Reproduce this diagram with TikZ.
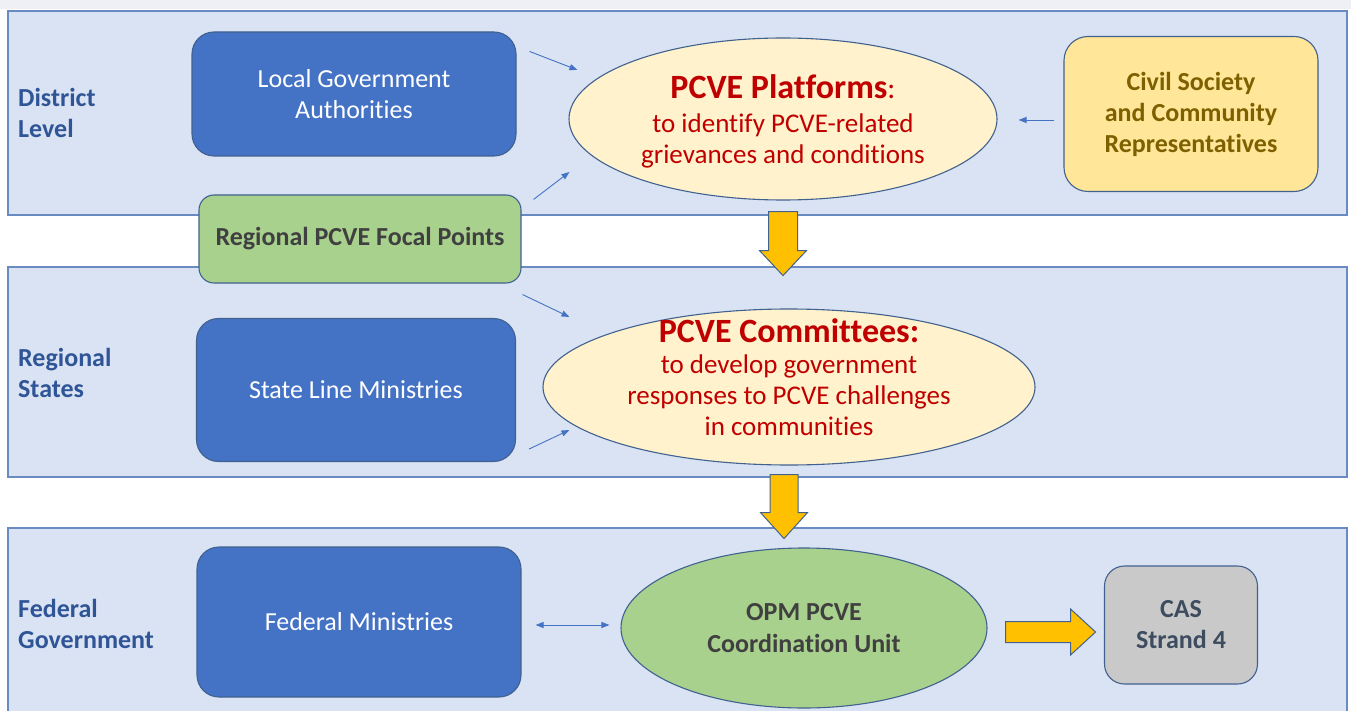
\documentclass[tikz,border=0pt]{standalone}
\usepackage{fontspec}
\setmainfont[Ligatures=NoCommon]{Carlito}
\usetikzlibrary{shapes.geometric,arrows.meta,calc}

\definecolor{bandfill}{HTML}{DAE3F3}
\definecolor{bandline}{HTML}{6A8BC2}
\definecolor{outline}{HTML}{41618F}
\definecolor{darkblue}{HTML}{4472C4}
\definecolor{cream}{HTML}{FFF2CC}
\definecolor{gold}{HTML}{FFE699}
\definecolor{olive}{HTML}{7F6000}
\definecolor{leaf}{HTML}{A9D18E}
\definecolor{ink}{HTML}{404040}
\definecolor{silver}{HTML}{C9C9C9}
\definecolor{slate}{HTML}{3E4C60}
\definecolor{crimson}{HTML}{C00000}
\definecolor{amber}{HTML}{FFC000}
\definecolor{labelblue}{HTML}{2F5597}
\definecolor{topstrip}{HTML}{EEF0F5}

\tikzset{
  x=1pt, y=-1pt,
  band/.style={draw=bandline, fill=bandfill, line width=1.4pt},
  bluebox/.style={draw=outline, fill=darkblue, rounded corners=22pt, line width=1.1pt,
    text=white, align=center, font=\fontsize{26}{31}\selectfont},
  goldbox/.style={draw=outline, fill=gold, rounded corners=24pt, line width=1.1pt,
    text=olive, align=center, font=\fontsize{26}{31}\selectfont\bfseries},
  greenbox/.style={draw=outline, fill=leaf, rounded corners=15pt, line width=1.1pt,
    text=ink, align=center, font=\fontsize{26}{31}\selectfont\bfseries},
  greybox/.style={draw=outline, fill=silver, rounded corners=20pt, line width=1.1pt,
    text=slate, align=center, font=\fontsize{26}{31}\selectfont\bfseries},
  oval/.style={ellipse, draw=outline, line width=1.1pt, inner sep=0pt},
  redtext/.style={text=crimson, align=center, font=\fontsize{27}{31}\selectfont},
  greentext/.style={text=ink, align=center, font=\fontsize{26}{32}\selectfont\bfseries},
  levellabel/.style={anchor=west, align=left, text=labelblue,
    font=\fontsize{26}{31}\selectfont\bfseries, inner sep=0pt},
  thinarrow/.style={draw=darkblue, line width=0.9pt, -{Triangle[length=8pt,width=6pt]}},
  pics/blockarrow/.style n args={4}{code={
    \draw[fill=amber, draw=outline, line width=1pt]
      (0,-#2/2) -- (#1-#4,-#2/2) -- (#1-#4,-#3/2) -- (#1,0)
      -- (#1-#4,#3/2) -- (#1-#4,#2/2) -- (0,#2/2) -- cycle;
  }},
}
\newcommand{\titlefont}{\fontsize{34}{40}\selectfont\bfseries}

\begin{document}
\begin{tikzpicture}
\useasboundingbox (0,0) rectangle (1351,711);
\fill[topstrip] (0,0) rectangle (1351,9);

% three horizontal levels
\draw[band] (8,11) rectangle (1347,215);
\draw[band] (8,267) rectangle (1347,477);
\draw[band] (8,528) rectangle (1347,725);

% level names
\node[levellabel] (lvl1) at (18,113) {District\\Level};
\node[levellabel] (lvl2) at (18,373) {Regional\\States};
\node[levellabel] (lvl3) at (18,624) {Federal\\Government};

% district level
\node[bluebox, minimum width=324pt, minimum height=124pt] (lga) at (354,94)
  {Local Government\\Authorities};
\node[oval, fill=cream, minimum width=428pt, minimum height=162pt] (plat) at (783,119) {};
\node[redtext] (plattext) at (783,121)
  {{\titlefont PCVE Platforms}{\fontsize{30}{36}\selectfont:}\\[3pt]
   to identify PCVE-related\\grievances and conditions};
\node[goldbox, minimum width=254pt, minimum height=155pt] (civil) at (1191,114)
  {Civil Society\\and Community\\Representatives};

% focal points straddle the first two levels
\node[greenbox, minimum width=322pt, minimum height=88pt] (focal) at (360,239)
  {Regional PCVE Focal Points};

% regional states
\node[bluebox, minimum width=319pt, minimum height=143pt] (state) at (356,390)
  {State Line Ministries};
\node[oval, fill=cream, minimum width=492pt, minimum height=156pt] (comm) at (789,387) {};
\node[redtext] (commtext) at (789,377)
  {{\titlefont PCVE Committees:}\\
   to develop government\\responses to PCVE challenges\\in communities};

% federal government
\node[bluebox, minimum width=324pt, minimum height=150pt] (fed) at (359,622)
  {Federal Ministries};
\node[oval, fill=leaf, minimum width=366pt, minimum height=160pt] (opm) at (804,628) {};
\node[greentext] (opmtext) at (804,628) {OPM PCVE\\Coordination Unit};
\node[greybox, minimum width=153pt, minimum height=118pt] (cas) at (1181,625)
  {CAS\\Strand 4};

% thin input arrows
\coordinate (a1s) at ($(lga.north east)+(13,20)$);
\coordinate (a1e) at ($(plat.west)+(9,-49)$);
\coordinate (a2s) at ($(focal.north east)+(12,5)$);
\coordinate (a2e) at ($(plat.west)+(1,53)$);
\coordinate (a3s) at ($(civil.west)+(-9,6)$);
\coordinate (a3e) at ($(plat.east)+(21,1)$);
\coordinate (a4s) at ($(focal.south east)+(1,11)$);
\coordinate (a4e) at ($(comm.west)+(27,-70)$);
\coordinate (a5s) at ($(state.south east)+(13,-13)$);
\coordinate (a5e) at ($(comm.west)+(27,43)$);
\coordinate (a6s) at ($(fed.east)+(14,3)$);
\coordinate (a6e) at ($(opm.west)+(-11,-3)$);
\draw[thinarrow] (a1s) -- (a1e);
\draw[thinarrow] (a2s) -- (a2e);
\draw[thinarrow] (a3s) -- (a3e);
\draw[thinarrow] (a4s) -- (a4e);
\draw[thinarrow] (a5s) -- (a5e);
\draw[thinarrow, {Triangle[length=8pt,width=6pt]}-{Triangle[length=8pt,width=6pt]}] (a6s) -- (a6e);

% block arrows between the levels
\pic[rotate=-90] (flow1) at ($(plat.south)+(0,11)$) {blockarrow={64}{29}{47}{25}};
\pic[rotate=-90] (flow2) at ($(comm.south)+(-5,9)$) {blockarrow={64}{28}{47}{26}};
\pic (flow3) at ($(opm.east)+(18,4)$) {blockarrow={90}{21}{46}{25}};
\end{tikzpicture}
\end{document}
